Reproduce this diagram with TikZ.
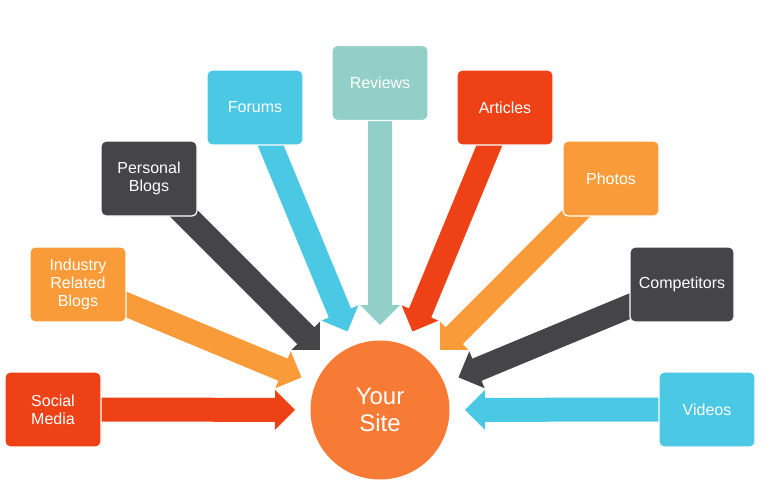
\documentclass[tikz,border=0pt]{standalone}
\usepackage{fontspec}
\setmainfont{Liberation Sans}
\usetikzlibrary{calc,backgrounds}
\definecolor{cred}{HTML}{EE4216}
\definecolor{corange}{HTML}{F99B39}
\definecolor{cdark}{HTML}{454547}
\definecolor{ccyan}{HTML}{4BC8E3}
\definecolor{cteal}{HTML}{92CFC9}
\definecolor{csite}{HTML}{F87B35}
\tikzset{
  srcbox/.style={draw=white, line width=1.2pt, rounded corners=5pt, minimum width=96pt, minimum height=75pt,
    inner sep=0pt, align=center, text=white, font=\fontsize{16pt}{18pt}\selectfont},
  sitecircle/.style={circle, fill=csite, minimum size=139pt, inner sep=0pt, align=center, text=white,
    font=\fontsize{24pt}{27pt}\selectfont}
}
\newcommand\blockarrow[3]{%
  \fill[#1] ($(#2)!12pt!90:(#3)$) -- ($($(#3)!105pt!(#2)$)!12pt!-90:(#2)$)
    -- ($($(#3)!105pt!(#2)$)!20pt!-90:(#2)$) -- ($(#3)!85pt!(#2)$)
    -- ($($(#3)!105pt!(#2)$)!20pt!90:(#2)$) -- ($($(#3)!105pt!(#2)$)!12pt!90:(#2)$)
    -- ($(#2)!12pt!-90:(#3)$) -- cycle;}
\begin{document}
\begin{tikzpicture}[x=1pt,y=-1pt]
\useasboundingbox (0,0) rectangle (765,500);
\node[sitecircle] (site) at (380,410) {Your\\Site};
\node[srcbox, fill=cred] (social) at (53,409.5) {Social\\Media};
\node[srcbox, fill=corange] (industry) at (78,284.5) {Industry\\Related\\Blogs};
\node[srcbox, fill=cdark] (personal) at (149,178.5) {Personal\\Blogs};
\node[srcbox, fill=ccyan] (forums) at (255,107.5) {Forums};
\node[srcbox, fill=cteal] (reviews) at (380,83) {Reviews};
\node[srcbox, fill=cred] (articles) at (505,107.5) {Articles};
\node[srcbox, fill=corange] (photos) at (611,178.5) {Photos};
\node[srcbox, fill=cdark, minimum width=104pt] (competitors) at (682,284.5) {Competitors};
\node[srcbox, fill=ccyan] (videos) at (707,409.5) {Videos};
\begin{pgfonlayer}{background}
\blockarrow{cred}{social}{site}
\blockarrow{corange}{industry}{site}
\blockarrow{cdark}{personal}{site}
\blockarrow{ccyan}{forums}{site}
\blockarrow{cteal}{reviews}{site}
\blockarrow{cred}{articles}{site}
\blockarrow{corange}{photos}{site}
\blockarrow{cdark}{competitors}{site}
\blockarrow{ccyan}{videos}{site}
\end{pgfonlayer}
\end{tikzpicture}
\end{document}
